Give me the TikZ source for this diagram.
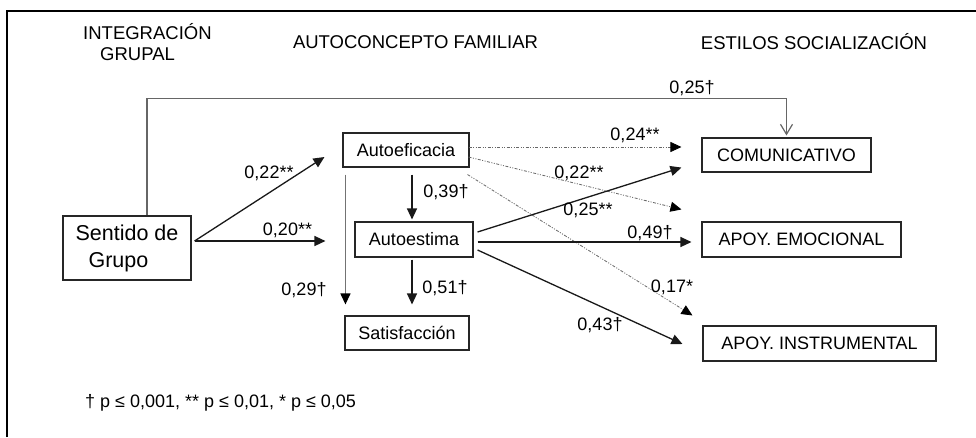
\documentclass[tikz,border=0pt]{standalone}
\usepackage{fontspec}
\setmainfont{Liberation Sans}
\usetikzlibrary{arrows.meta}
\begin{document}
\begin{tikzpicture}[x=1pt,y=-1pt,
  every node/.style={font=\fontsize{18}{21}\selectfont, inner sep=0pt},
  box/.style={draw=black!85, line width=1.1pt, minimum height=34pt},
  arr/.style={line width=1.3pt, draw=black!90, -{Triangle[length=11pt,width=10pt]}},
  dotarr/.style={line width=0.8pt, draw=black!60,
     dash pattern=on 3pt off 1.5pt on 1pt off 1.5pt on 1pt off 1.5pt,
     -{Triangle[length=11pt,width=10pt,color=black]}},
  grayarr/.style={line width=1.3pt, draw=black!55, -{Triangle[length=11pt,width=10pt,color=black]}}
]
\useasboundingbox (0,0) rectangle (976,437);
\fill[white] (0,0) rectangle (976,437);
% frame
\draw[line width=1.3pt] (7,437) -- (7,11) -- (976,11);

% headers
\node[anchor=west, align=left, font=\fontsize{18.5}{21}\selectfont] (h1) at (83,42.5) {INTEGRACIÓN\\\hspace*{17pt}GRUPAL};
\node[font=\fontsize{18.5}{21}\selectfont] (h2) at (415.5,42) {AUTOCONCEPTO FAMILIAR};
\node[font=\fontsize{18.5}{21}\selectfont] (h3) at (814,42) {ESTILOS SOCIALIZACIÓN};

% boxes
\node[box, minimum width=128pt, minimum height=64pt, align=left, font=\fontsize{21.5}{27}\selectfont] (sg) at (127,248) {Sentido de\\\hspace*{13pt}Grupo};
\node[box, minimum width=126pt] (ae) at (406,150) {Autoeficacia};
\node[box, minimum width=118pt, minimum height=35pt] (at) at (414,239.5) {Autoestima};
\node[box, minimum width=124pt] (sat) at (407,333) {Satisfacción};
\node[box, minimum width=169pt] (com) at (786.5,155) {COMUNICATIVO};
\node[box, minimum width=199pt, minimum height=35pt] (emo) at (801.5,239.5) {APOY. EMOCIONAL};
\node[box, minimum width=233pt, minimum height=35pt] (ins) at (819.5,343.5) {APOY. INSTRUMENTAL};

% long arrow
\draw[line width=1.2pt, draw=black!60, -{Straight Barb[length=10pt,width=12pt]}]
  ([shift={(20,0)}]sg.north) -- ++(0,-117) -| ([shift={(0,-2)}]com.north);
\node (l25d) at (692,88) {0,25†};

% from Sentido de Grupo
\draw[arr] ([shift={(3,-7)}]sg.east) -- ([shift={(-18,7)}]ae.west);
\draw[arr] ([shift={(3,-7)}]sg.east) -- ([shift={(-29,1.5)}]at.west);
\node (l22a) at (269,173) {0,22**};
\node (l20) at (287.5,230) {0,20**};

% within autoconcepto
\draw[grayarr] ([shift={(3,7)}]ae.south west) -- ([shift={(1,-11)}]sat.north west);
\draw[arr] ([shift={(6,7)}]ae.south) -- ([shift={(-2,-2)}]at.north);
\draw[arr] ([shift={(-2,2)}]at.south) -- ([shift={(5,-11)}]sat.north);
\node (l29) at (304,290) {0,29†};
\node (l39) at (446,192) {0,39†};
\node (l51) at (445,288) {0,51†};

% from Autoeficacia (dotted)
\draw[dotarr] ([shift={(-1,-3)}]ae.east) -- ([shift={(-20,-8)}]com.west);
\draw[dotarr] ([shift={(-1,7)}]ae.east) -- ([shift={(-20,-12)}]emo.north west);
\draw[dotarr] ([shift={(-2,7)}]ae.south east) -- ([shift={(-10,-10)}]ins.north west);
\node (l24) at (635,135) {0,24**};
\node (l22b) at (579,173) {0,22**};
\node (l17) at (672,287) {0,17*};

% from Autoestima
\draw[arr] ([shift={(4,-7.5)}]at.east) -- ([shift={(-20,-5)}]com.south west);
\draw[arr] ([shift={(4,2.5)}]at.east) -- ([shift={(-10,2.5)}]emo.west);
\draw[arr] ([shift={(4,10.5)}]at.east) -- ([shift={(-20,0.5)}]ins.west);
\node (l25) at (588,210) {0,25**};
\node (l49) at (650,233) {0,49†};
\node (l43) at (600,325) {0,43†};

% footnote
\node[anchor=west] (fn) at (85,403) {† p ≤ 0,001, ** p ≤ 0,01, * p ≤ 0,05};
\end{tikzpicture}
\end{document}
